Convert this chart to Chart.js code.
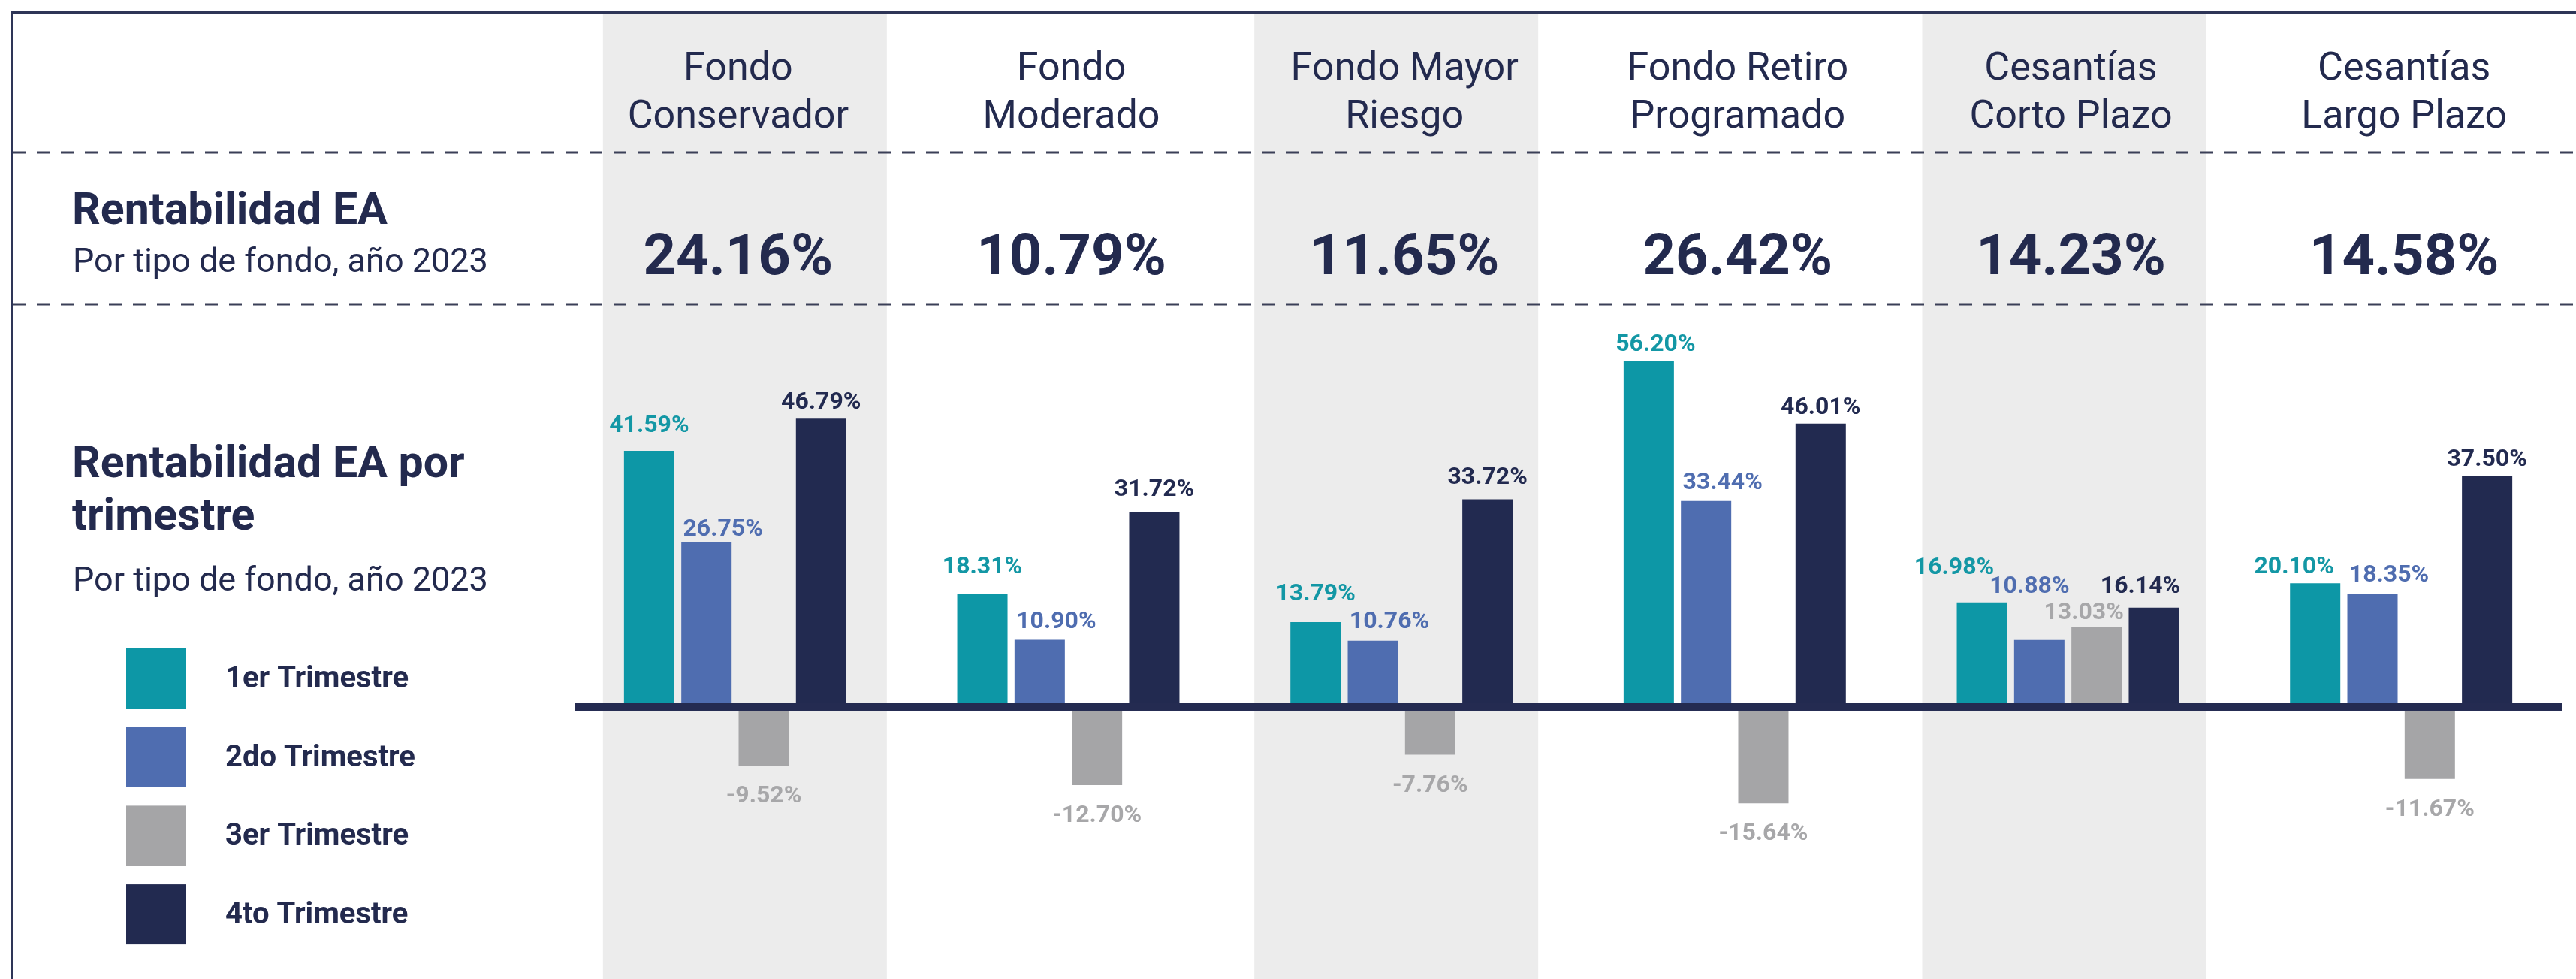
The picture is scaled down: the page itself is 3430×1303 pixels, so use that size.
<!DOCTYPE html>
<html>
<head>
<meta charset="utf-8">
<script src="https://cdn.jsdelivr.net/npm/chart.js@4.4.1/dist/chart.umd.min.js"></script>
<style>
html,body{margin:0;padding:0;background:#ffffff;}
canvas{display:block;}
</style>
</head>
<body>
<canvas id="c" width="3430" height="1303"></canvas>
<script>
// ---------- DATA ----------
const categories = [
  ['Fondo', 'Conservador'],
  ['Fondo', 'Moderado'],
  ['Fondo Mayor', 'Riesgo'],
  ['Fondo Retiro', 'Programado'],
  ['Cesantías', 'Corto Plazo'],
  ['Cesantías', 'Largo Plazo']
];
const annualReturn = [24.16, 10.79, 11.65, 26.42, 14.23, 14.58];
const seriesNames = ['1er Trimestre', '2do Trimestre', '3er Trimestre', '4to Trimestre'];
const q1 = [41.59, 18.31, 13.79, 56.20, 16.98, 20.10];
const q2 = [26.75, 10.90, 10.76, 33.44, 10.88, 18.35];
const q3 = [-9.52, -12.70, -7.76, -15.64, 13.03, -11.67];
const q4 = [46.79, 31.72, 33.72, 46.01, 16.14, 37.50];
const titleAnnual = 'Rentabilidad EA';
const titleQuarter = ['Rentabilidad EA por', 'trimestre'];
const subtitle = 'Por tipo de fondo, año 2023';

// ---------- STYLE ----------
const seriesColors = ['#0D97A6', '#4F6DB0', '#A5A5A7', '#222A50'];
const labelColors = ['#1397A5', '#4F6DB0', '#A7A7A9', '#222A50'];
const textColor = '#232A4E';
const bandColor = '#ECECEC';
const bandShift = [13, -7, -5];
const FONT = 'Roboto, "Open Sans", sans-serif';
// manual label nudges (dx, dy) as in the original layout, keyed "category-series"
const labelNudge = {
  '0-0': [0, -12], '1-0': [0, -15], '2-0': [0, -16], '3-0': [9, 0], '5-0': [-28, 0],
  '0-1': [22, 4], '1-1': [22, -3], '2-1': [22, -4], '3-1': [22, -3], '5-1': [22, -4],
  '1-3': [0, -8], '2-3': [0, -7],
  '4-0': [-37, -25], '4-1': [-13, -50], '4-2': [-17, 3], '4-3': [-18, -7]
};

const series = [q1, q2, q3, q4];

const decor = {
  id: 'decor',
  beforeDatasetsDraw(chart) {
    const ctx = chart.ctx;
    const xs = chart.scales.x;
    const area = chart.chartArea;
    const catW = (area.right - area.left) / categories.length;
    ctx.save();
    // gray bands for alternate columns
    ctx.fillStyle = bandColor;
    for (let i = 0, b = 0; i < categories.length; i += 2, b++) {
      const cx = xs.getPixelForValue(i) + bandShift[b];
      const w = catW * 0.852;
      ctx.fillRect(cx - w / 2, 17, w, chart.height - 17);
    }
    // frame: top and left
    ctx.fillStyle = '#2E3557';
    ctx.fillRect(14, 14, chart.width - 14, 4);
    ctx.fillRect(14, 14, 3, chart.height - 14);
    // dashed separators
    ctx.strokeStyle = '#3A3F57';
    ctx.lineWidth = 3;
    ctx.setLineDash([17, 15]);
    [203, 405].forEach(y => {
      ctx.beginPath();
      ctx.moveTo(17, y);
      ctx.lineTo(chart.width, y);
      ctx.stroke();
    });
    ctx.setLineDash([]);
    // column headers and annual values
    ctx.fillStyle = textColor;
    ctx.textAlign = 'center';
    ctx.textBaseline = 'alphabetic';
    categories.forEach((lines, i) => {
      const cx = xs.getPixelForValue(i) + 4;
      ctx.font = `400 52px ${FONT}`;
      lines.forEach((ln, j) => ctx.fillText(ln, cx, 106 + j * 64));
      ctx.font = `700 76px ${FONT}`;
      ctx.fillText(annualReturn[i].toFixed(2) + '%', cx, 365);
    });
    // left titles
    ctx.textAlign = 'left';
    ctx.font = `700 59px ${FONT}`;
    ctx.fillText(titleAnnual, 96, 298);
    ctx.font = `400 45px ${FONT}`;
    ctx.fillText(subtitle, 97, 362);
    ctx.font = `700 59px ${FONT}`;
    titleQuarter.forEach((ln, j) => ctx.fillText(ln, 96, 635 + j * 70));
    ctx.font = `400 45px ${FONT}`;
    ctx.fillText(subtitle, 97, 786);
    // legend
    ctx.textBaseline = 'middle';
    chart.data.datasets.forEach((ds, k) => {
      const top = 863 + k * 104.7;
      ctx.fillStyle = ds.backgroundColor;
      ctx.fillRect(168, top, 80, 80);
      ctx.fillStyle = textColor;
      ctx.font = `700 40px ${FONT}`;
      ctx.fillText(ds.label, 300, top + 42);
    });
    ctx.restore();
  },
  afterDatasetsDraw(chart) {
    const ctx = chart.ctx;
    const area = chart.chartArea;
    const y0 = chart.scales.y.getPixelForValue(0);
    ctx.save();
    // zero line
    ctx.fillStyle = '#242B51';
    ctx.fillRect(area.left + 9, y0 - 5, area.right - area.left - 16, 10);
    // value labels
    ctx.textAlign = 'center';
    ctx.textBaseline = 'middle';
    ctx.font = `700 32px ${FONT}`;
    chart.data.datasets.forEach((ds, k) => {
      const meta = chart.getDatasetMeta(k);
      meta.data.forEach((bar, i) => {
        const v = ds.data[i];
        const nudge = labelNudge[i + '-' + k] || [0, 0];
        const y = v >= 0 ? bar.y - 21 : bar.y + 41;
        ctx.fillStyle = labelColors[k];
        ctx.fillText(v.toFixed(2) + '%', bar.x + nudge[0], y + nudge[1]);
      });
    });
    ctx.restore();
  }
};

new Chart(document.getElementById('c'), {
  type: 'bar',
  data: {
    labels: categories.map(c => c.join(' ')),
    datasets: seriesNames.map((name, k) => ({
      label: name,
      data: series[k],
      backgroundColor: seriesColors[k],
      borderWidth: 0,
      categoryPercentage: 0.688,
      barPercentage: 0.878
    }))
  },
  options: {
    responsive: false,
    animation: false,
    devicePixelRatio: 1,
    layout: {padding: {left: 757, right: 11, top: 15, bottom: 0}},
    scales: {
      x: {display: false},
      y: {display: false, min: -44.15, max: 112.93}
    },
    plugins: {legend: {display: false}, tooltip: {enabled: false}}
  },
  plugins: [decor]
});
</script>
</body>
</html>
